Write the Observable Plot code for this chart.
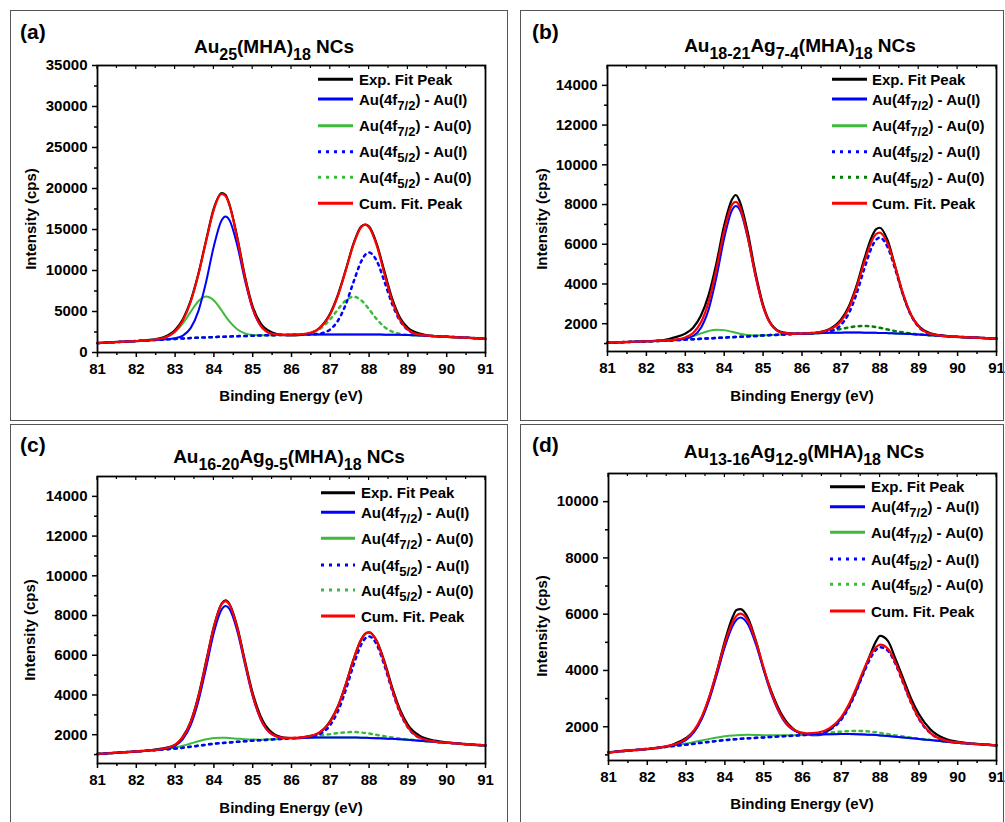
<!DOCTYPE html>
<html><head><meta charset="utf-8">
<script src="https://cdn.jsdelivr.net/npm/d3@7"></script>
<script src="https://cdn.jsdelivr.net/npm/@observablehq/plot@0.6"></script>
<style>
body{margin:0;background:#fff;}
#root{position:relative;width:1005px;height:822px;overflow:hidden;background:#fff;}
.pl{position:absolute;}
text{white-space:pre;}
</style></head><body><div id="root"></div>
<script>
const FONT = '"Liberation Sans", Arial, Helvetica, sans-serif';
const BLUE = "#0000ff", GREEN = "#3cba3c", DKGREEN = "#008000", RED = "#ff0000";

// Binding energy grid (eV)
const energy = [81.0,81.5,82.0,82.4,82.7,83.0,83.2,83.4,83.6,83.8,84.0,84.2,84.3,84.4,84.6,84.8,85.0,85.2,85.5,85.8,86.1,86.4,86.7,87.0,87.2,87.4,87.6,87.8,87.9,88.0,88.2,88.4,88.6,88.8,89.0,89.3,89.7,90.2,90.6,91.0];

// Panel (a) Au25(MHA)18
const a_exp = [1130,1290,1380,1560,1850,2750,4050,6300,9600,13700,17600,19450,19200,18050,14100,9300,5600,3600,2450,2120,2080,2250,2900,4800,7100,10100,13300,15400,15600,15350,13200,9800,6500,4200,3000,2300,2000,1850,1790,1650];
const a_b1 = [1150,1270,1400,1500,1586,1742,2066,2976,5052,8638,12999,16131,16585,16161,13109,8818,5302,3296,2286,2155,2160,2180,2190,2200,2200,2200,2200,2195,2192,2190,2185,2175,2165,2150,2130,2080,1990,1880,1780,1680];
const a_g1 = [1150,1270,1400,1522,1754,2507,3543,4957,6257,6820,6337,5117,4425,3783,2837,2331,2142,2102,2110,2140,2160,2180,2190,2200,2200,2200,2200,2195,2192,2190,2185,2175,2165,2150,2130,2080,1990,1880,1780,1680];
const a_b2 = [1150,1270,1400,1500,1580,1660,1710,1760,1800,1840,1880,1920,1935,1950,1990,2020,2050,2080,2110,2140,2160,2188,2282,2825,3900,5880,8620,11145,11922,12190,11135,8595,5845,3850,2755,2172,1990,1880,1780,1680];
const a_g2 = [1150,1270,1400,1500,1580,1660,1710,1760,1800,1840,1880,1920,1935,1950,1990,2020,2050,2080,2110,2140,2176,2304,2788,4063,5277,6358,6800,6353,5858,5267,4048,3095,2538,2274,2163,2080,1990,1880,1780,1680];
const a_cum = [1150,1270,1400,1522,1760,2589,3899,6173,9509,13618,17456,19328,19075,17994,13956,9129,5394,3318,2286,2156,2176,2312,2880,4688,6977,10038,13220,15303,15588,15267,12998,9515,6218,3974,2788,2173,1990,1880,1780,1680];

// Panel (b)
const b_exp = [1040,1075,1120,1160,1300,1500,1800,2400,3450,5050,6950,8250,8480,8150,6650,4600,2950,2000,1560,1500,1490,1550,1720,2200,2850,3900,5250,6400,6750,6830,6200,4850,3450,2450,1880,1520,1390,1310,1290,1240];
const b_b1 = [1045,1080,1110,1140,1168,1237,1380,1787,2723,4338,6302,7712,7920,7732,6362,4438,2868,1972,1534,1492,1505,1525,1540,1550,1552,1552,1550,1545,1540,1535,1525,1510,1495,1475,1450,1415,1370,1320,1285,1250];
const b_g1 = [1045,1080,1110,1142,1180,1271,1375,1510,1636,1700,1676,1590,1540,1495,1431,1406,1413,1427,1455,1485,1505,1525,1540,1550,1552,1552,1550,1545,1540,1535,1525,1510,1495,1475,1450,1415,1370,1320,1285,1250];
const b_b2 = [1045,1080,1110,1140,1165,1200,1220,1240,1260,1280,1300,1320,1330,1340,1360,1380,1405,1425,1455,1485,1505,1533,1609,1938,2511,3494,4758,5880,6215,6330,5860,4718,3437,2434,1838,1484,1373,1320,1285,1250];
const b_g2 = [1045,1080,1110,1140,1165,1200,1220,1240,1260,1280,1300,1320,1330,1340,1360,1380,1405,1425,1455,1485,1513,1556,1629,1736,1810,1866,1885,1859,1829,1793,1711,1627,1560,1506,1463,1418,1370,1320,1285,1250];
const b_cum = [1045,1080,1110,1142,1183,1308,1535,2057,3099,4758,6678,7982,8130,7887,6433,4464,2876,1974,1534,1492,1513,1564,1698,2124,2769,3808,5093,6194,6504,6588,6046,4835,3502,2465,1851,1487,1373,1320,1285,1250];

// Panel (c)
const c_exp = [1020,1100,1150,1230,1310,1480,1900,2650,3950,5700,7450,8600,8760,8580,7450,5720,4100,2950,2100,1860,1820,1900,2080,2700,3450,4550,5800,6800,7080,7150,6700,5650,4350,3250,2500,1950,1700,1580,1500,1450];
const c_b1 = [1030,1090,1160,1211,1274,1443,1775,2468,3681,5375,7145,8302,8475,8332,7240,5550,3936,2798,2014,1835,1829,1845,1858,1865,1865,1862,1858,1850,1845,1840,1825,1808,1790,1765,1740,1700,1640,1565,1510,1460];
const c_g1 = [1030,1090,1160,1214,1273,1356,1447,1556,1668,1766,1835,1851,1845,1833,1801,1772,1756,1752,1767,1796,1825,1845,1858,1865,1865,1862,1858,1850,1845,1840,1825,1808,1790,1765,1740,1700,1640,1565,1510,1460];
const c_b2 = [1030,1090,1160,1210,1255,1300,1345,1395,1445,1495,1545,1580,1595,1610,1640,1670,1700,1725,1760,1795,1828,1869,2006,2494,3199,4264,5512,6551,6848,6950,6526,5462,4192,3099,2369,1848,1652,1565,1510,1460];
const c_g2 = [1030,1090,1160,1210,1255,1300,1345,1395,1445,1495,1545,1580,1595,1610,1640,1670,1700,1725,1761,1798,1836,1881,1945,2030,2084,2122,2133,2110,2087,2059,1990,1919,1857,1801,1757,1705,1641,1565,1510,1460];
const c_cum = [1030,1090,1160,1215,1292,1499,1877,2629,3904,5646,7435,8573,8725,8555,7401,5652,3992,2825,2022,1839,1843,1905,2093,2659,3418,4524,5787,6811,7090,7169,6691,5573,4259,3135,2386,1853,1653,1565,1510,1460];

// Panel (d)
const d_exp = [1080,1160,1200,1270,1390,1600,1850,2300,3050,4000,5050,5900,6150,6180,5850,5050,4050,3250,2350,1880,1720,1700,1900,2300,2750,3350,4050,4750,5050,5230,5050,4400,3700,3000,2450,1900,1560,1430,1380,1330];
const d_b1 = [1090,1150,1210,1276,1353,1532,1800,2267,2974,3884,4841,5586,5803,5882,5626,4921,4009,3146,2253,1857,1743,1726,1732,1738,1738,1735,1728,1712,1702,1690,1668,1645,1620,1595,1565,1525,1470,1410,1375,1340];
const d_g1 = [1090,1150,1212,1279,1335,1401,1455,1511,1568,1617,1660,1690,1699,1705,1712,1708,1701,1697,1695,1701,1711,1722,1733,1738,1738,1735,1728,1712,1702,1690,1668,1645,1620,1595,1565,1525,1470,1410,1375,1340];
const d_b2 = [1090,1150,1210,1270,1315,1360,1395,1430,1465,1495,1525,1550,1560,1570,1590,1605,1620,1637,1662,1685,1709,1756,1890,2255,2702,3310,3987,4556,4739,4827,4705,4222,3538,2846,2280,1768,1506,1412,1375,1340];
const d_g2 = [1090,1150,1210,1270,1315,1360,1395,1430,1465,1495,1525,1550,1560,1570,1590,1605,1620,1637,1663,1690,1719,1751,1790,1826,1842,1849,1842,1816,1799,1778,1736,1693,1651,1613,1575,1528,1471,1410,1375,1340];
const d_cum = [1090,1150,1212,1285,1373,1573,1860,2348,3077,4006,4976,5726,5942,6017,5748,5024,4090,3206,2287,1878,1767,1795,1949,2343,2806,3424,4101,4660,4836,4915,4773,4270,3569,2864,2290,1771,1507,1412,1375,1340];

// Ticks
const xTicks = [81,82,83,84,85,86,87,88,89,90,91];
const xTickLabels = ["81","82","83","84","85","86","87","88","89","90","91"];
const xMinor = [81.5,82.5,83.5,84.5,85.5,86.5,87.5,88.5,89.5,90.5];
const a_yTicks = [0,5000,10000,15000,20000,25000,30000,35000];
const a_yLabels = ["0","5000","10000","15000","20000","25000","30000","35000"];
const a_yMinor = [2500,7500,12500,17500,22500,27500,32500];
const bc_yTicks = [2000,4000,6000,8000,10000,12000,14000];
const bc_yLabels = ["2000","4000","6000","8000","10000","12000","14000"];
const bc_yMinor = [1000,3000,5000,7000,9000,11000,13000];
const d_yTicks = [2000,4000,6000,8000,10000];
const d_yLabels = ["2000","4000","6000","8000","10000"];
const d_yMinor = [1000,3000,5000,7000,9000];

// Text
const xTitle = "Binding Energy (eV)";
const yTitle = "Intensity (cps)";
const legendLabels = [
  [["Exp. Fit Peak",0]],
  [["Au(4f",0],["7/2",1],[") - Au(I)",0]],
  [["Au(4f",0],["7/2",1],[") - Au(0)",0]],
  [["Au(4f",0],["5/2",1],[") - Au(I)",0]],
  [["Au(4f",0],["5/2",1],[") - Au(0)",0]],
  [["Cum. Fit. Peak",0]]
];
const titles = {
  a: [["Au",0],["25",1],["(MHA)",0],["18",1],[" NCs",0]],
  b: [["Au",0],["18-21",1],["Ag",0],["7-4",1],["(MHA)",0],["18",1],[" NCs",0]],
  c: [["Au",0],["16-20",1],["Ag",0],["9-5",1],["(MHA)",0],["18",1],[" NCs",0]],
  d: [["Au",0],["13-16",1],["Ag",0],["12-9",1],["(MHA)",0],["18",1],[" NCs",0]]
};

const panels = [
  {id:"a", left:0, top:0, w:505, h:412, ml:97, mr:20, mt:65, mb:60, ydom:[0,35000],
   yTicks:a_yTicks, yLabels:a_yLabels, yMinor:a_yMinor,
   exp:a_exp, b1:a_b1, g1:a_g1, b2:a_b2, g2:a_g2, cum:a_cum, g2color:GREEN,
   box:[10.5,10.5,497,410], lab:[20,39], title:[274,53], xt:[291,401], yt:[30,219],
   leg:{x1:318, x2:353, tx:359, rows:[79.3,99,125.7,151.7,177.3,203.3]}},
  {id:"b", left:505, top:0, w:500, h:412, ml:102, mr:9, mt:65, mb:61, ydom:[600,15000],
   yTicks:bc_yTicks, yLabels:bc_yLabels, yMinor:bc_yMinor,
   exp:b_exp, b1:b_b1, g1:b_g1, b2:b_b2, g2:b_g2, cum:b_cum, g2color:DKGREEN,
   box:[520.5,10.5,483,410], lab:[532,39], title:[800,52], xt:[802,401], yt:[541,219],
   leg:{x1:832, x2:867, tx:872, rows:[79.3,99,125.7,151.7,177.3,203.3]}},
  {id:"c", left:0, top:415, w:505, h:407, ml:97, mr:20, mt:61, mb:59, ydom:[550,15000],
   yTicks:bc_yTicks, yLabels:bc_yLabels, yMinor:bc_yMinor,
   exp:c_exp, b1:c_b1, g1:c_g1, b2:c_b2, g2:c_g2, cum:c_cum, g2color:GREEN,
   box:[10.5,424.5,497,420], lab:[20,452], title:[289,463], xt:[291,813], yt:[29,630]},
  {id:"d", left:505, top:415, w:500, h:407, ml:103, mr:9, mt:58, mb:62, ydom:[800,11000],
   yTicks:d_yTicks, yLabels:d_yLabels, yMinor:d_yMinor,
   exp:d_exp, b1:d_b1, g1:d_g1, b2:d_b2, g2:d_g2, cum:d_cum, g2color:GREEN,
   box:[520.5,424.5,483,420], lab:[532,452], title:[804,458], xt:[802,809], yt:[541,626]}
];
panels[2].leg = {x1:321, x2:355, tx:361, rows:[492.7,512.3,538.3,565,590,616]};
panels[3].leg = {x1:830, x2:865, tx:871, rows:[486.7,506.7,532.3,559,584.3,611]};
const panelLabels = {a:"(a)", b:"(b)", c:"(c)", d:"(d)"};

const root = document.getElementById("root");
const overlay = d3.create("svg").attr("width",1005).attr("height",822)
  .style("position","absolute").style("left","0px").style("top","0px")
  .attr("font-family",FONT);

function rich(sel, x, y, parts, size, subSize, subDy, anchor){
  const t = sel.append("text").attr("x",x).attr("y",y).attr("font-size",size)
    .attr("font-weight","bold").attr("text-anchor",anchor||"start").attr("fill","#000");
  let cur = 0;
  parts.forEach(([s,sub])=>{
    const want = sub ? subDy : 0;
    t.append("tspan").attr("dy", want-cur).attr("font-size", sub?subSize:size).text(s);
    cur = want;
  });
  return t;
}

panels.forEach(p=>{
  const rows = energy.map((e,i)=>({e, exp:p.exp[i], b1:p.b1[i], g1:p.g1[i], b2:p.b2[i], g2:p.g2[i], cum:p.cum[i]}));
  const L = (key, stroke, extra={}) => Plot.line(rows, {x:"e", y:key, stroke, strokeWidth:2, curve:"monotone-x", ...extra});
  const plot = Plot.plot({
    width:p.w, height:p.h, marginLeft:p.ml, marginRight:p.mr, marginTop:p.mt, marginBottom:p.mb,
    style:{fontFamily:FONT, fontSize:"15px", fontWeight:"bold", color:"#000", background:"transparent", overflow:"visible"},
    x:{domain:[81,91]}, y:{domain:p.ydom},
    marks:[
      L("exp","#000",{strokeWidth:2.2}),
      L("g1",GREEN),
      L("g2",p.g2color,{strokeDasharray:"2.5,4.5", strokeWidth:2.5}),
      L("b2",BLUE,{strokeDasharray:"2.5,4.5", strokeWidth:2.5}),
      L("b1",BLUE),
      L("cum",RED,{strokeWidth:2.2}),
      Plot.axisX({ticks:xTicks, tickFormat:d=>xTickLabels[xTicks.indexOf(d)], tickSize:5, tickPadding:6, strokeWidth:1.5, label:null}),
      Plot.axisX({ticks:xMinor, tickFormat:()=>"", tickSize:3, strokeWidth:1.5, label:null}),
      Plot.axisY({ticks:p.yTicks, tickFormat:d=>p.yLabels[p.yTicks.indexOf(d)], tickSize:5, tickPadding:5, strokeWidth:1.5, label:null}),
      Plot.axisY({ticks:p.yMinor, tickFormat:()=>"", tickSize:3, strokeWidth:1.5, label:null}),
      Plot.frame({stroke:"#000", strokeWidth:1.8})
    ]
  });
  const wrap = document.createElement("div");
  wrap.className = "pl";
  wrap.style.left = p.left+"px"; wrap.style.top = p.top+"px";
  wrap.appendChild(plot);
  root.appendChild(wrap);

  // inward ticks along top frame
  const xs = plot.scale("x");
  const yTop = p.top + p.mt;
  xTicks.concat(xMinor).forEach(v=>{
    const px = p.left + xs.apply(v);
    overlay.append("line").attr("x1",px).attr("x2",px).attr("y1",yTop).attr("y2",yTop+(xTicks.includes(v)?4:3))
      .attr("stroke","#000").attr("stroke-width",1.2);
  });

  // panel border
  overlay.append("rect").attr("x",p.box[0]).attr("y",p.box[1]).attr("width",p.box[2]).attr("height",p.box[3])
    .attr("fill","none").attr("stroke","#555").attr("stroke-width",1);
  // panel label
  overlay.append("text").attr("x",p.lab[0]).attr("y",p.lab[1]).attr("font-size",21).attr("font-weight","bold").text(panelLabels[p.id]);
  // title
  rich(overlay, p.title[0], p.title[1], titles[p.id], 19, 16, 7, "middle");
  // axis titles
  overlay.append("text").attr("x",p.xt[0]).attr("y",p.xt[1]).attr("font-size",15).attr("font-weight","bold")
    .attr("text-anchor","middle").text(xTitle);
  overlay.append("text").attr("transform",`translate(${p.yt[0]},${p.yt[1]}) rotate(-90)`).attr("font-size",15)
    .attr("font-weight","bold").attr("text-anchor","middle").attr("dominant-baseline","central").text(yTitle);
  // legend
  const styles = [
    {stroke:"#000"}, {stroke:BLUE}, {stroke:GREEN},
    {stroke:BLUE, dash:"3,5"}, {stroke:p.g2color, dash:"3,5"}, {stroke:RED}
  ];
  p.leg.rows.forEach((ry,i)=>{
    const ln = overlay.append("line").attr("x1",p.leg.x1).attr("x2",p.leg.x2).attr("y1",ry).attr("y2",ry)
      .attr("stroke",styles[i].stroke).attr("stroke-width",3);
    if (styles[i].dash) ln.attr("stroke-dasharray",styles[i].dash);
    rich(overlay, p.leg.tx, ry+5.5, legendLabels[i], 15, 13, 5, "start");
  });
});
root.appendChild(overlay.node());
</script></body></html>
